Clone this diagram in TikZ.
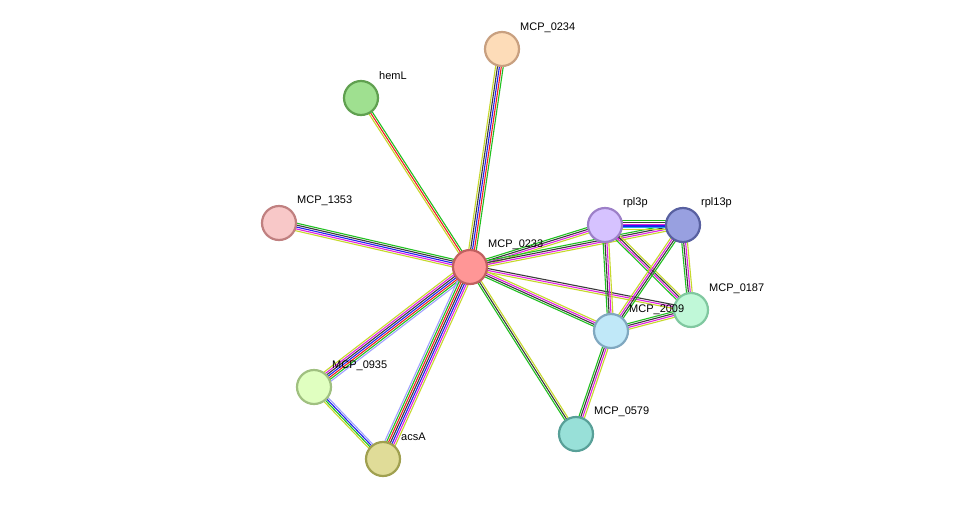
\documentclass[tikz,border=0pt]{standalone}
\usepackage{fontspec}
\setmainfont{Liberation Sans}
\usetikzlibrary{calc}
\definecolor{cY}{HTML}{C6D82C}
\definecolor{cK}{HTML}{3A3A3A}
\definecolor{cM}{HTML}{E020E0}
\definecolor{cB}{HTML}{2020F0}
\definecolor{cR}{HTML}{F02020}
\definecolor{cG}{HTML}{20C020}
\definecolor{cL}{HTML}{20B0E0}
\definecolor{cV}{HTML}{A0A0FF}
\definecolor{f1}{HTML}{FF9696}\definecolor{d1}{HTML}{C06060}
\definecolor{f2}{HTML}{FDDCB8}\definecolor{d2}{HTML}{C8A080}
\definecolor{f3}{HTML}{9FE090}\definecolor{d3}{HTML}{60A050}
\definecolor{f4}{HTML}{F8C8C8}\definecolor{d4}{HTML}{C08080}
\definecolor{f5}{HTML}{D6C2FF}\definecolor{d5}{HTML}{9D80C8}
\definecolor{f6}{HTML}{98A0E0}\definecolor{d6}{HTML}{5860A0}
\definecolor{f7}{HTML}{C0F8D8}\definecolor{d7}{HTML}{80C8A0}
\definecolor{f8}{HTML}{C0E8F8}\definecolor{d8}{HTML}{80A8C0}
\definecolor{f9}{HTML}{E0FFC0}\definecolor{d9}{HTML}{A0C080}
\definecolor{f10}{HTML}{E0DC98}\definecolor{d10}{HTML}{A0A050}
\definecolor{f11}{HTML}{98E0D8}\definecolor{d11}{HTML}{58A098}
\newcommand\stredge[4]{% a b n colors
  \foreach \c [count=\i] in {#4} {
    \pgfmathsetmacro\off{(\i-(#3+1)/2)*1.9}
    \draw[\c,line width=1.1pt] ($(#1)!\off pt!90:(#2)$) -- ($(#2)!\off pt!-90:(#1)$);
  }}
\tikzset{pn/.style={circle,minimum size=34pt,inner sep=0pt,line width=2.2pt,
  fill=f#1,draw=d#1},
  lb/.style={font=\fontsize{11}{13}\selectfont,anchor=west,inner sep=0pt}}
\begin{document}
\begin{tikzpicture}[x=1pt,y=-1pt]
\useasboundingbox (0,0) rectangle (975,504);
\coordinate (c) at (470,267);
\coordinate (p0234) at (502,49);
\coordinate (hem) at (361,98);
\coordinate (p1353) at (279,223);
\coordinate (r3) at (605,225);
\coordinate (r13) at (683,225);
\coordinate (p0187) at (691,310);
\coordinate (p2009) at (611,331);
\coordinate (p0935) at (314,387);
\coordinate (acs) at (383,459);
\coordinate (p0579) at (576,434);
\stredge{c}{p0234}{5}{cG,cR,cB,cK,cY}
\stredge{c}{hem}{3}{cG,cR,cY}
\stredge{c}{p1353}{5}{cG,cK,cB,cM,cY}
\stredge{c}{r3}{4}{cY,cM,cK,cG}
\stredge{c}{r13}{4}{cY,cM,cK,cG}
\stredge{c}{p0187}{3}{cY,cM,cK}
\stredge{c}{p2009}{4}{cG,cK,cM,cY}
\stredge{c}{p0579}{3}{cG,cK,cY}
\stredge{c}{p0935}{7}{cY,cM,cK,cB,cR,cG,cV}
\stredge{c}{acs}{7}{cV,cG,cR,cK,cB,cM,cY}
\stredge{p0935}{acs}{4}{cY,cG,cB,cV}
\stredge{r3}{r13}{6}{cY,cL,cB,cM,cK,cG}
\stredge{r3}{p2009}{4}{cG,cK,cM,cY}
\stredge{r3}{p0187}{4}{cG,cM,cK,cY}
\stredge{r13}{p2009}{4}{cY,cM,cK,cG}
\stredge{r13}{p0187}{4}{cG,cK,cM,cY}
\stredge{p2009}{p0187}{4}{cY,cM,cK,cG}
\stredge{p2009}{p0579}{4}{cG,cK,cM,cY}
\node[pn=1] (n0233) at (c) {};
\node[pn=2] (n0234) at (p0234) {};
\node[pn=3] (nhem) at (hem) {};
\node[pn=4] (n1353) at (p1353) {};
\node[pn=5] (nr3) at (r3) {};
\node[pn=6] (nr13) at (r13) {};
\node[pn=7] (n0187) at (p0187) {};
\node[pn=8] (n2009) at (p2009) {};
\node[pn=9] (n0935) at (p0935) {};
\node[pn=10] (nacs) at (acs) {};
\node[pn=11] (n0579) at (p0579) {};
\node[lb] (l0233) at (488,245) {MCP\_0233};
\node[lb] (l0234) at (520,28) {MCP\_0234};
\node[lb] (lhem) at (379,76) {hemL};
\node[lb] (l1353) at (297,201) {MCP\_1353};
\node[lb] (lr3) at (623,203) {rpl3p};
\node[lb] (lr13) at (701,203) {rpl13p};
\node[lb] (l0187) at (709,289) {MCP\_0187};
\node[lb] (l2009) at (629,310) {MCP\_2009};
\node[lb] (l0935) at (332,366) {MCP\_0935};
\node[lb] (lacs) at (401,437) {acsA};
\node[lb] (l0579) at (594,412) {MCP\_0579};
\end{tikzpicture}
\end{document}
